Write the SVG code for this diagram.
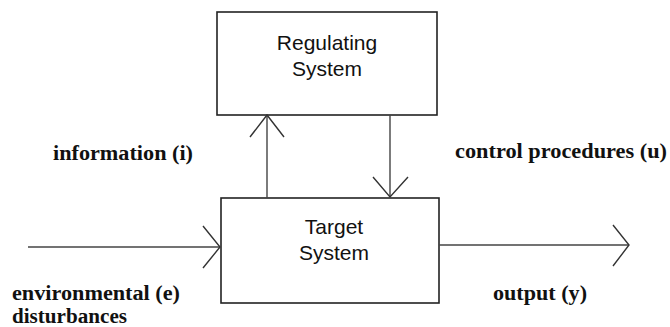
<svg xmlns="http://www.w3.org/2000/svg" width="670" height="327" viewBox="0 0 670 327">
  <style>
    .box { fill: #ffffff; stroke: #222222; stroke-width: 1.6; }
    .line { fill: none; stroke: #444444; stroke-width: 1.4; }
    .head { fill: none; stroke: #333333; stroke-width: 1.4; stroke-linejoin: miter; }
    .title { font-family: "Liberation Sans", Arial, sans-serif; font-size: 21px; fill: #111111; text-anchor: middle; }
    .label { font-family: "Liberation Serif", "Times New Roman", serif; font-size: 20px; font-weight: bold; fill: #111111; }
  </style>
  <rect width="670" height="327" fill="#ffffff"/>

  <g id="regulating-system">
    <rect class="box" x="217" y="12" width="220" height="103"/>
    <text class="title" x="327" y="50">Regulating</text>
    <text class="title" x="327" y="76">System</text>
  </g>

  <g id="target-system">
    <rect class="box" x="221" y="198" width="218" height="105"/>
    <text class="title" x="334" y="234">Target</text>
    <text class="title" x="334" y="260">System</text>
  </g>

  <g id="connectors">
    <!-- information (i): target to regulator -->
    <line class="line" x1="267" y1="198" x2="267" y2="115"/>
    <polyline class="head" points="250,137 267,115 284,137"/>
    <!-- control procedures (u): regulator to target -->
    <line class="line" x1="390" y1="115" x2="390" y2="197"/>
    <polyline class="head" points="373,177 390,197 408,177"/>
    <!-- environmental disturbances (e) -->
    <line class="line" x1="28" y1="247" x2="220" y2="247"/>
    <polyline class="head" points="203,226 220,247 203,268"/>
    <!-- output (y) -->
    <line class="line" x1="439" y1="245" x2="629" y2="245"/>
    <polyline class="head" points="613,225 629,245 613,266"/>
  </g>

  <g id="labels">
    <text class="label" x="53" y="160" textLength="140" lengthAdjust="spacingAndGlyphs">information (i)</text>
    <text class="label" x="455" y="158" textLength="212" lengthAdjust="spacingAndGlyphs">control procedures (u)</text>
    <text class="label" x="12" y="300" textLength="168" lengthAdjust="spacingAndGlyphs">environmental (e)</text>
    <text class="label" x="12" y="323" textLength="115" lengthAdjust="spacingAndGlyphs">disturbances</text>
    <text class="label" x="493" y="300" textLength="94" lengthAdjust="spacingAndGlyphs">output (y)</text>
  </g>
</svg>
